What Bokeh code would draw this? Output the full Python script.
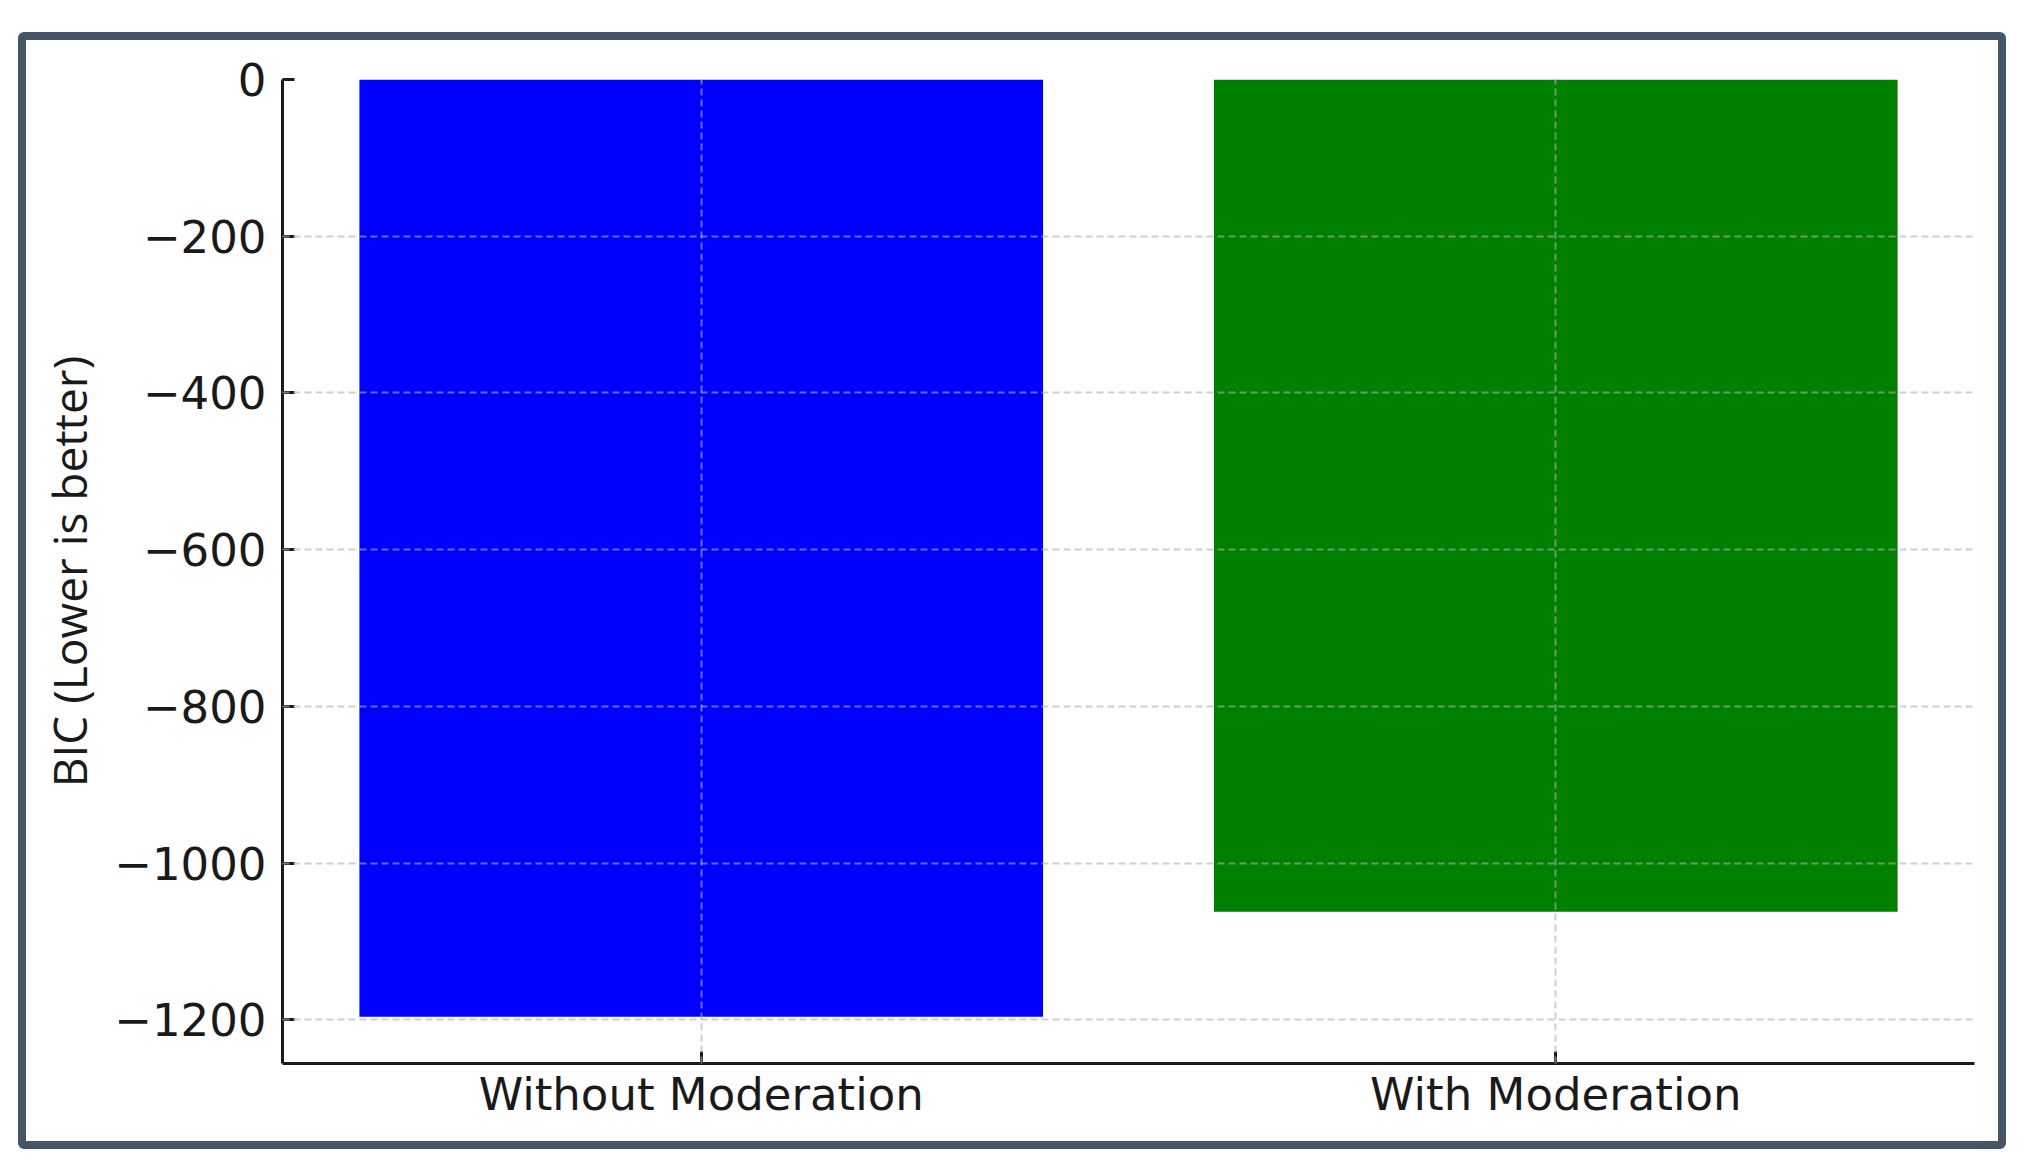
from bokeh.plotting import figure
from bokeh.models import Range1d, FixedTicker, CustomJSTickFormatter, ColumnDataSource
from bokeh.embed import file_html
from bokeh.resources import INLINE

categories = ["Without Moderation", "With Moderation"]
bic_values = [-1196, -1062]
bar_colors = ["#0000ff", "#008000"]
y_ticks = [0, -200, -400, -600, -800, -1000, -1200]

x_pos = list(range(len(categories)))
source = ColumnDataSource(dict(x=x_pos, bic=bic_values, color=bar_colors))

p = figure(width=1972, height=1101, output_backend="svg", toolbar_location=None,
           x_range=Range1d(-0.49, 1.49), y_range=Range1d(1.05 * min(bic_values), 0),
           min_border_left=256, min_border_right=40, min_border_top=39, min_border_bottom=94)
p.styles = {"position": "absolute", "left": "18px", "top": "32px",
            "box-sizing": "content-box",
            "border": "8px solid #475569", "border-radius": "6px"}

p.vbar(x="x", width=0.8, top=0, bottom="bic", fill_color="color", line_color=None, source=source)

p.outline_line_color = None
p.background_fill_color = "white"
p.border_fill_color = "white"

for g in (p.xgrid[0], p.ygrid[0]):
    g.level = "overlay"
    g.grid_line_color = "#b0b0b0"
    g.grid_line_alpha = 0.6
    g.grid_line_width = 2
    g.grid_line_dash = "7 4"

xa = p.xaxis[0]
xa.ticker = FixedTicker(ticks=x_pos)
xa.major_label_overrides = {i: c for i, c in zip(x_pos, categories)}
xa.minor_tick_line_color = None

ya = p.yaxis[0]
ya.ticker = FixedTicker(ticks=y_ticks)
ya.formatter = CustomJSTickFormatter(code="return tick < 0 ? '\\u2212' + Math.abs(tick) : String(tick);")
ya.minor_tick_line_color = None
ya.axis_label = "BIC (Lower is better)"
ya.axis_label_text_font = "Open Sans"
ya.axis_label_text_font_size = "46px"
ya.axis_label_text_font_style = "normal"
ya.axis_label_text_color = "#1a1a1a"
ya.axis_label_standoff = 11

for ax in (xa, ya):
    ax.axis_line_width = 3
    ax.axis_line_color = "#1a1a1a"
    ax.major_tick_line_width = 3
    ax.major_tick_line_color = "#1a1a1a"
    ax.major_tick_in = 12
    ax.major_tick_out = 0
    ax.major_label_text_font = "DejaVu Sans"
    ax.major_label_text_font_size = "45px"
    ax.major_label_text_color = "#1a1a1a"

xa.major_label_standoff = 4
ya.major_label_standoff = 16

open("out.html", "w").write(file_html(p, INLINE))
